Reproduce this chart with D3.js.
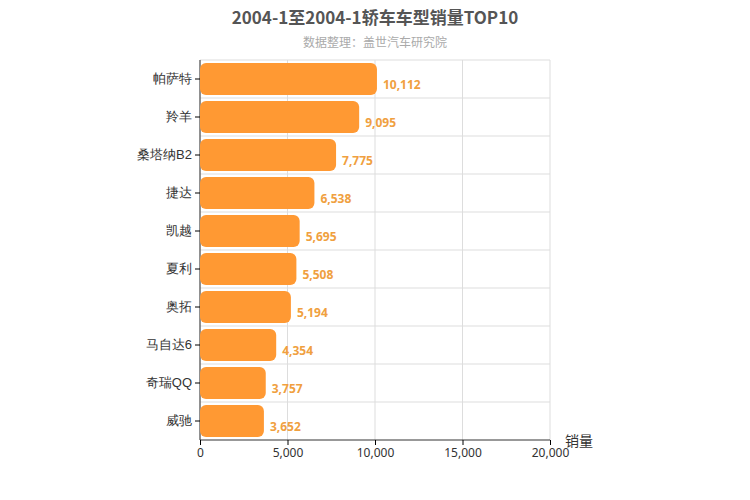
<!DOCTYPE html><html><head><meta charset="utf-8"><script src="https://cdn.jsdelivr.net/npm/d3@7"></script>
<style>body{margin:0;background:#fff;font-family:"Noto Sans CJK SC","Noto Sans",sans-serif}</style></head><body><svg id="c" width="750" height="500"></svg><script>
const categories=["帕萨特","羚羊","桑塔纳B2","捷达","凯越","夏利","奥拓","马自达6","奇瑞QQ","威驰"];
const values=[10112,9095,7775,6538,5695,5508,5194,4354,3757,3652];
const xTicks=[0,5000,10000,15000,20000];
const svg=d3.select("#c");
const L=200,R=550,T=60,B=440;
const x=d3.scaleLinear().domain([0,20000]).range([L,R]);
const y=d3.scaleBand().domain(categories).range([T,B]);
const g=svg.append("g");
xTicks.forEach(t=>g.append("line").attr("x1",x(t)).attr("x2",x(t)).attr("y1",T).attr("y2",B).attr("stroke","#ddd"));
categories.forEach((c,i)=>g.append("line").attr("x1",L).attr("x2",R).attr("y1",y(c)).attr("y2",y(c)).attr("stroke","#ddd"));
svg.append("line").attr("x1",L).attr("x2",L).attr("y1",T).attr("y2",B).attr("stroke","#333");
svg.append("line").attr("x1",L).attr("x2",R).attr("y1",B).attr("y2",B).attr("stroke","#333");
const ax=svg.append("g").attr("transform",`translate(0,${B})`).call(d3.axisBottom(x).tickValues(xTicks).tickFormat(d3.format(",")).tickSize(5));
ax.select(".domain").remove();
ax.selectAll("text").attr("font-size",12).attr("fill","#333").attr("font-family","Noto Sans, sans-serif");
const ay=svg.append("g").attr("transform",`translate(${L},0)`).call(d3.axisLeft(y).tickSize(5));
ay.select(".domain").remove();
ay.selectAll("text").attr("font-size",13).attr("fill","#333");
const bh=32;
svg.selectAll("rect.b").data(values).join("rect").attr("x",L).attr("y",(d,i)=>y(categories[i])+(y.bandwidth()-bh)/2)
 .attr("width",d=>x(d)-L).attr("height",bh).attr("rx",6).attr("fill","#FF9933");
svg.selectAll("text.v").data(values).join("text").attr("x",d=>x(d)+6).attr("y",(d,i)=>y(categories[i])+y.bandwidth()/2+10)
 .text(d3.format(",")).attr("fill","#F0A040").attr("font-size",12).attr("font-weight","bold").attr("font-family","Noto Sans, sans-serif");
svg.append("text").attr("x",375).attr("y",24).attr("text-anchor","middle").attr("font-size",17).attr("font-weight","bold").attr("fill","#555").text("2004-1至2004-1轿车车型销量TOP10");
svg.append("text").attr("x",375).attr("y",47).attr("text-anchor","middle").attr("font-size",12).attr("fill","#aaa").text("数据整理：盖世汽车研究院");
svg.append("text").attr("x",565).attr("y",446).attr("font-size",14).attr("fill","#333").text("销量");
</script></body></html>
